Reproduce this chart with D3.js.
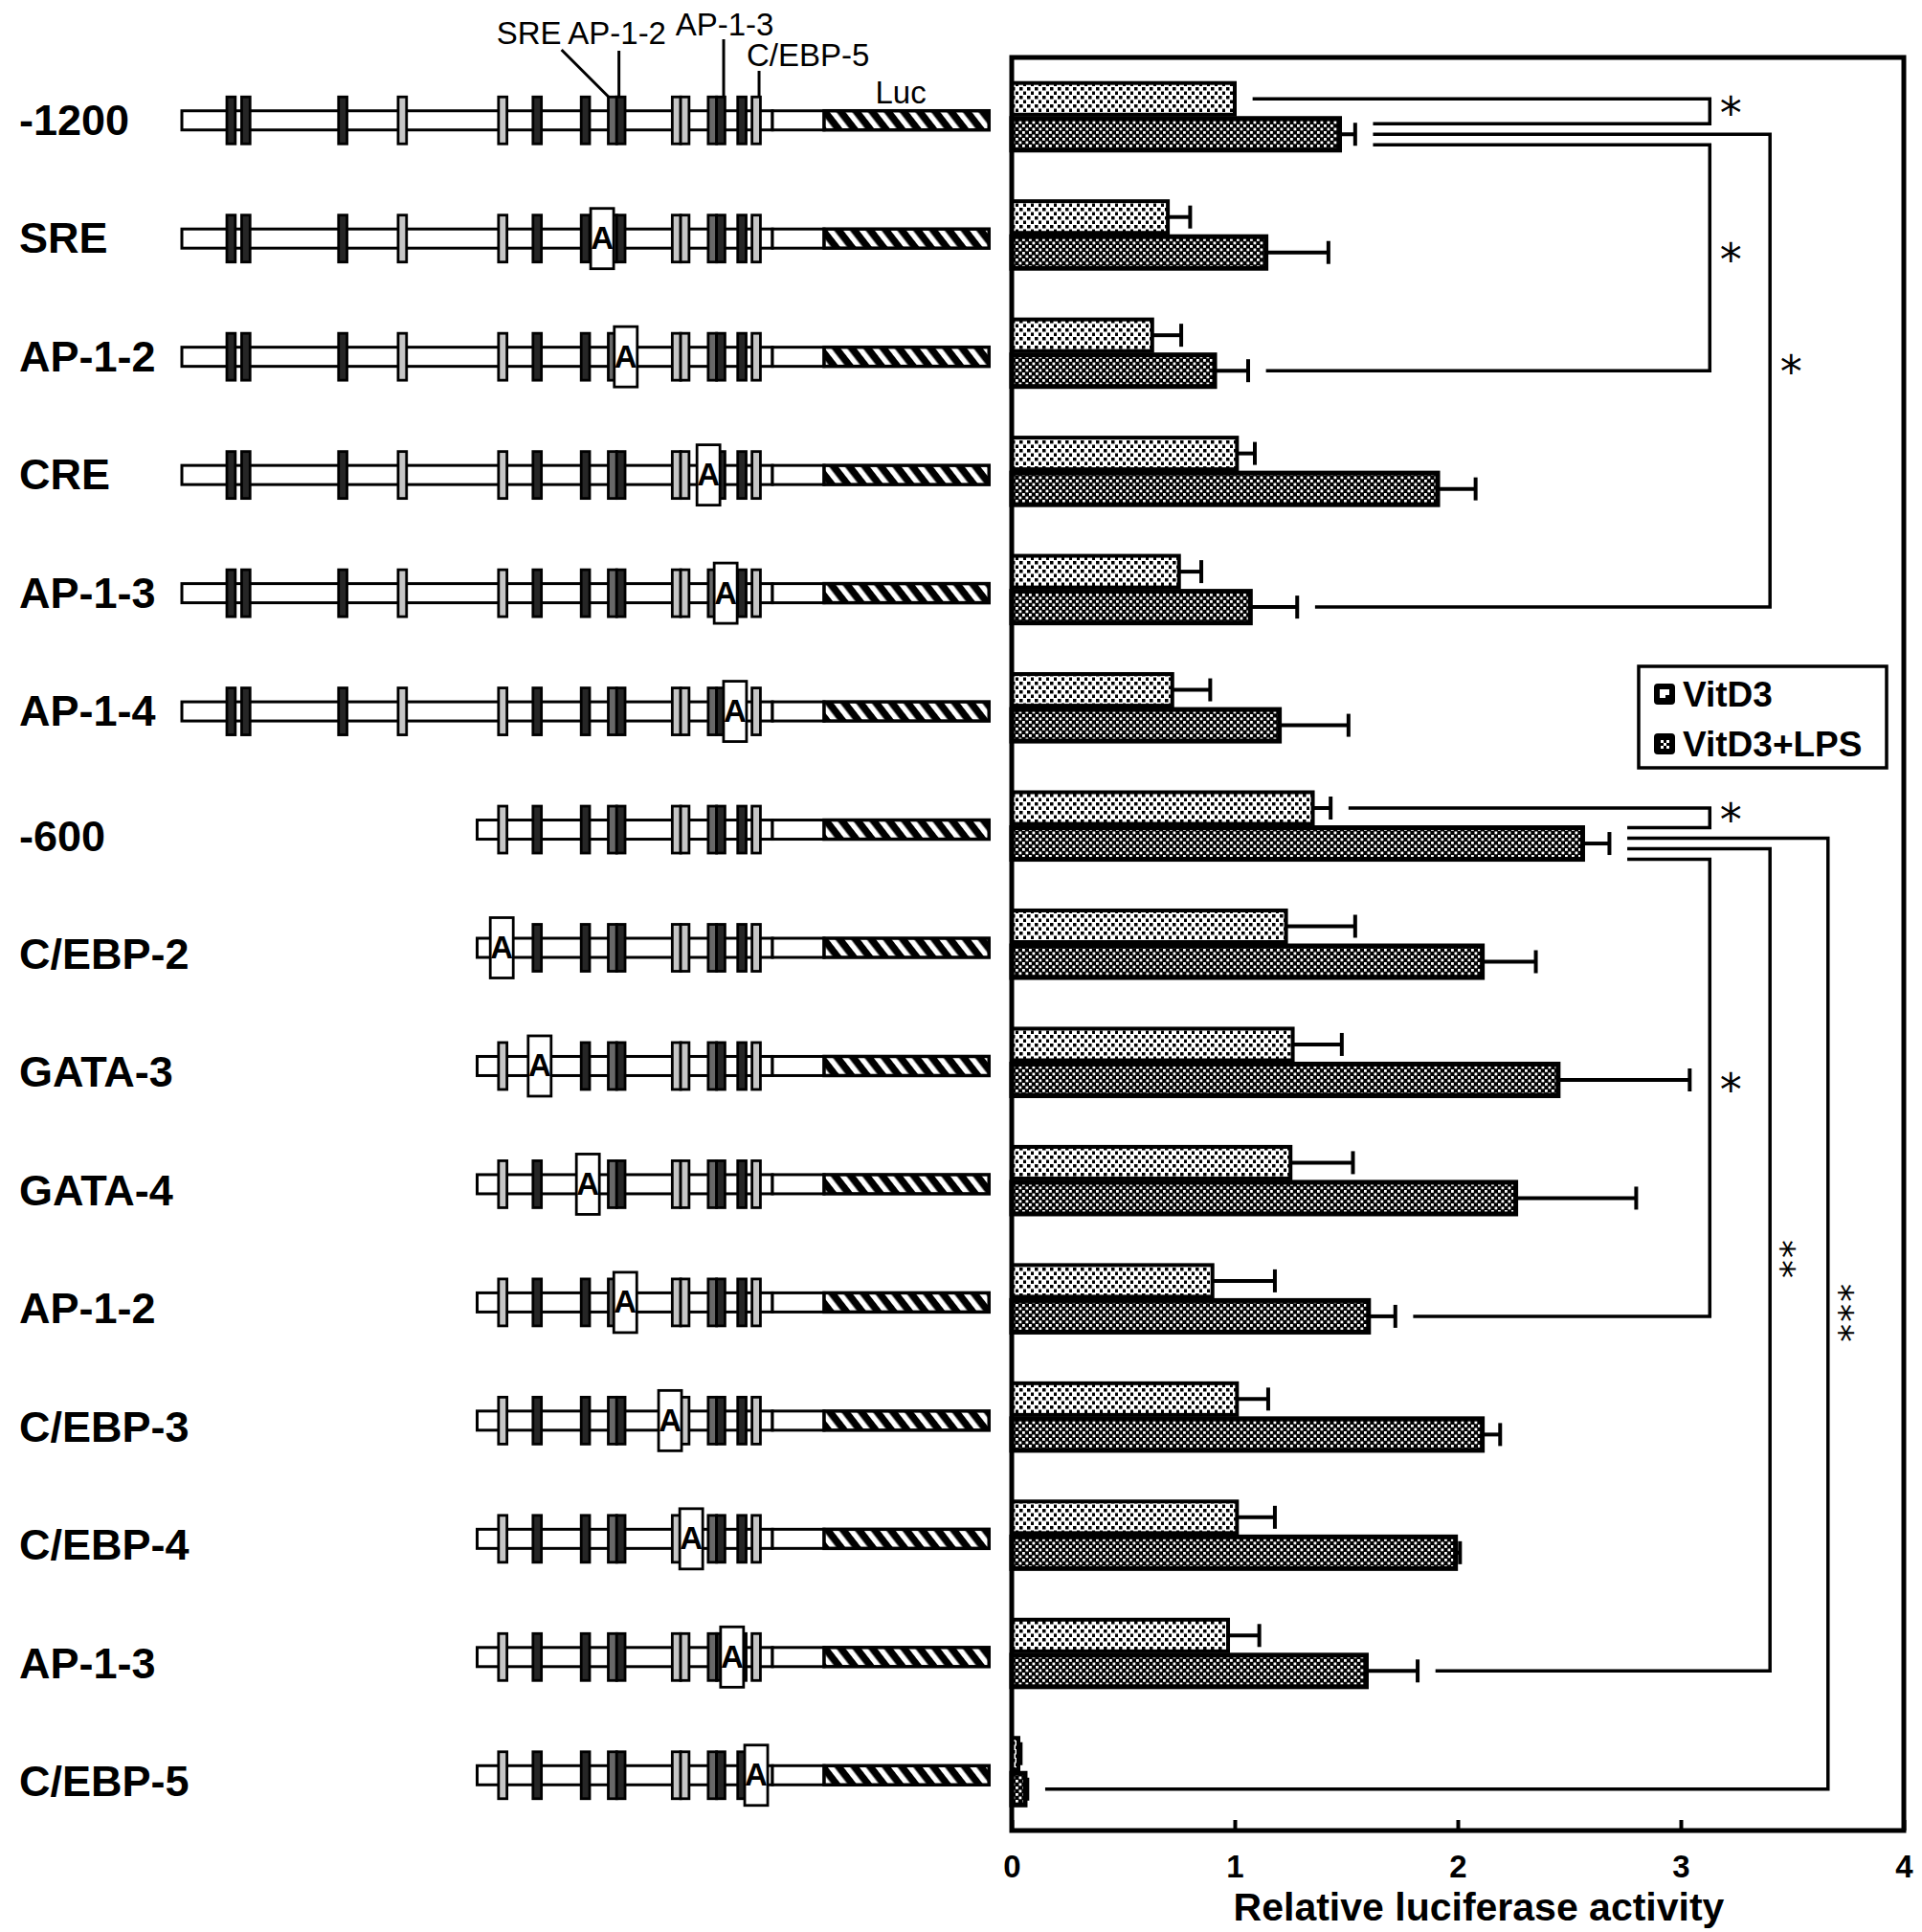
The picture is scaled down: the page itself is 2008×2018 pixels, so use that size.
<!DOCTYPE html>
<html><head><meta charset="utf-8">
<script src="https://cdn.jsdelivr.net/npm/d3@7"></script>
<style>body{margin:0;background:#fff} svg{display:block}</style>
</head><body><svg id="c" width="2008" height="2018"></svg>
<script>
// ---------------- data ----------------
const rowLabels = ["-1200","SRE","AP-1-2","CRE","AP-1-3","AP-1-4","-600","C/EBP-2","GATA-3","GATA-4","AP-1-2","C/EBP-3","C/EBP-4","AP-1-3","C/EBP-5"];
const promoterStart = [-1200,-1200,-1200,-1200,-1200,-1200,-600,-600,-600,-600,-600,-600,-600,-600,-600];
const mutationBp = [null,-346,-298,-130,-95,-76,null,-550,-473,-375,-299,-208,-165,-82,-33];
const seriesNames = ["VitD3","VitD3+LPS"];
const vitD3      = [1.00,0.70,0.63,1.01,0.75,0.72,1.35,1.23,1.26,1.25,0.90,1.01,1.01,0.97,0.03];
const vitD3Err   = [0.00,0.10,0.13,0.08,0.10,0.17,0.08,0.31,0.22,0.28,0.28,0.14,0.17,0.14,0.01];
const vitD3LPS   = [1.47,1.14,0.91,1.91,1.07,1.20,2.56,2.11,2.45,2.26,1.60,2.11,1.99,1.59,0.06];
const vitD3LPSErr= [0.07,0.28,0.15,0.17,0.21,0.31,0.12,0.24,0.59,0.54,0.12,0.08,0.02,0.23,0.01];
const siteNames = ["s1","s2","s3","s4","C/EBP-2","GATA-3","GATA-4","SRE","AP-1-2","C/EBP-3","C/EBP-4","CRE","AP-1-3","AP-1-4","C/EBP-5"];
const siteBp    = [-1100,-1070,-873,-752,-548,-478,-380,-325,-308,-195,-178,-122,-105,-62,-33];
const siteShade = ["dark","dark","dark","light","light","dark","dark","mid","dark","light","light","mid","dark","dark","light"];
const promoterEnd = 0, lucStart = 105, lucEnd = 440;
const xTicks = [0,1,2,3,4];
const comparisons = [
  {from:[0,0], to:[0,1], at:3.13, mark:"*"},
  {from:[0,1], to:[4,1], at:3.40, mark:"*"},
  {from:[0,1], to:[2,1], at:3.13, mark:"*"},
  {from:[6,0], to:[6,1], at:3.13, mark:"*"},
  {from:[6,1], to:[14,1], at:3.66, mark:"***"},
  {from:[6,1], to:[13,1], at:3.40, mark:"**"},
  {from:[6,1], to:[10,1], at:3.13, mark:"*"}
];
const xTitle = "Relative luciferase activity";

// ---------------- setup ----------------
const FONT = "Liberation Sans, Arial, sans-serif";
const values = [vitD3, vitD3LPS], errs = [vitD3Err, vitD3LPSErr];
const svg = d3.select("#c");
svg.append("rect").attr("width",2008).attr("height",2018).attr("fill","#fff");
const defs = svg.append("defs");
const pL = defs.append("pattern").attr("id","pLight").attr("patternUnits","userSpaceOnUse").attr("width",8).attr("height",9);
pL.append("rect").attr("width",8).attr("height",9).attr("fill","#fff");
pL.append("rect").attr("x",1).attr("y",1).attr("width",3.5).attr("height",3.5).attr("fill","#000");
pL.append("rect").attr("x",5).attr("y",5.5).attr("width",3.5).attr("height",3.5).attr("fill","#000");
const pD = defs.append("pattern").attr("id","pDark").attr("patternUnits","userSpaceOnUse").attr("width",7).attr("height",7);
pD.append("rect").attr("width",7).attr("height",7).attr("fill","#000");
pD.append("rect").attr("x",0.5).attr("y",0.5).attr("width",2.8).attr("height",2.8).attr("fill","#fff");
pD.append("rect").attr("x",4).attr("y",4).attr("width",2.8).attr("height",2.8).attr("fill","#fff");
const pH = defs.append("pattern").attr("id","hatch").attr("patternUnits","userSpaceOnUse").attr("width",13).attr("height",13).attr("patternTransform","rotate(-38)");
pH.append("rect").attr("width",13).attr("height",13).attr("fill","#000");
pH.append("rect").attr("width",5.5).attr("height",13).attr("fill","#fff");
const fills = ["url(#pLight)","url(#pDark)"];
const shadeColor = {dark:"#262626", mid:"#686868", light:"#c6c6c6"};

const x = d3.scaleLinear().domain([0,4]).range([1057,1989]);
const rows = d3.range(rowLabels.length);
const yBand = d3.scaleBand().domain(rows).range([60,1912]);
const ySub = d3.scaleBand().domain([0,1]).range([0,yBand.bandwidth()]).paddingInner(0).paddingOuter(0.667);
const xd = d3.scaleLinear().domain([-1200,0]).range([190,807]);
const rowCenter = i => yBand(i) + yBand.bandwidth()/2;
const diagCenter = i => rowCenter(i) + 4;

// ---------------- row labels ----------------
svg.append("g").selectAll("text").data(rows).join("text")
  .attr("x",20).attr("y",i => rowCenter(i) + (promoterStart[i] === -1200 ? 3 : 10) + 16)
  .attr("font-family",FONT).attr("font-weight","bold").attr("font-size",45)
  .text(i => rowLabels[i]);

// ---------------- construct diagrams ----------------
const dg = svg.append("g");
rows.forEach(i => {
  const g = dg.append("g");
  const cy = diagCenter(i);
  g.append("rect").attr("x",xd(promoterStart[i])).attr("y",cy-10).attr("width",xd(promoterEnd)-xd(promoterStart[i])).attr("height",20)
    .attr("fill","#fff").attr("stroke","#000").attr("stroke-width",3);
  g.append("rect").attr("x",xd(promoterEnd)).attr("y",cy-10).attr("width",xd(lucStart)-xd(promoterEnd)).attr("height",20)
    .attr("fill","#fff").attr("stroke","#000").attr("stroke-width",3);
  g.append("rect").attr("x",xd(lucStart)).attr("y",cy-10).attr("width",xd(lucEnd)-xd(lucStart)).attr("height",20)
    .attr("fill","url(#hatch)").attr("stroke","#000").attr("stroke-width",3.5);
  const sites = d3.range(siteBp.length).filter(k => siteBp[k] > promoterStart[i]);
  g.selectAll("rect.site").data(sites).join("rect").attr("class","site")
    .attr("x",k => xd(siteBp[k]) - 4.4).attr("y",cy-24.5).attr("width",8.8).attr("height",49)
    .attr("fill",k => shadeColor[siteShade[k]]).attr("stroke","#000").attr("stroke-width",2.8);
  if (mutationBp[i] !== null) {
    g.append("rect").attr("x",xd(mutationBp[i]) - 12).attr("y",cy-31.5).attr("width",24).attr("height",63)
      .attr("fill","#fff").attr("stroke","#000").attr("stroke-width",2.8);
    g.append("text").attr("x",xd(mutationBp[i])).attr("y",cy+11).attr("text-anchor","middle")
      .attr("font-family",FONT).attr("font-weight","bold").attr("font-size",33).text("A");
  }
});

// top annotations for the -1200 construct
{
  const top = diagCenter(0) - 24.5;
  const sx = n => xd(siteBp[siteNames.indexOf(n)]);
  const ag = svg.append("g").attr("font-family",FONT).attr("font-size",33);
  const line = (x1,y1,x2,y2) => ag.append("line").attr("x1",x1).attr("y1",y1).attr("x2",x2).attr("y2",y2).attr("stroke","#000").attr("stroke-width",3);
  ag.append("text").attr("x",sx("AP-1-2")-4).attr("y",46).attr("text-anchor","middle").text("AP-1-2");
  line(sx("AP-1-2")-2, 53, sx("AP-1-2")-2, top);
  ag.append("text").attr("x",sx("AP-1-2")-62).attr("y",46).attr("text-anchor","end").text("SRE");
  line(sx("AP-1-2")-62, 52, sx("SRE")-4, top);
  ag.append("text").attr("x",sx("AP-1-3")+4).attr("y",37).attr("text-anchor","middle").text("AP-1-3");
  line(sx("AP-1-3")+3, 41, sx("AP-1-3")+3, top);
  ag.append("text").attr("x",sx("C/EBP-5")-10).attr("y",69).attr("text-anchor","start").text("C/EBP-5");
  line(sx("C/EBP-5")+3, 74, sx("C/EBP-5")+3, top);
  ag.append("text").attr("x",(xd(lucStart)+xd(lucEnd))/2-6).attr("y",108).attr("text-anchor","middle").text("Luc");
}

// ---------------- bars ----------------
const bg = svg.append("g");
const barData = [];
rows.forEach(i => [0,1].forEach(s => barData.push({i, s, v: values[s][i], e: errs[s][i]})));
const barMid = d => yBand(d.i)+ySub(d.s)+ySub.bandwidth()/2;
bg.selectAll("line.err").data(barData.filter(d => d.e > 0)).join("line").attr("class","err")
  .attr("x1",d => x(d.v)).attr("x2",d => x(d.v + d.e))
  .attr("y1",barMid).attr("y2",barMid)
  .attr("stroke","#000").attr("stroke-width",4);
bg.selectAll("line.cap").data(barData.filter(d => d.e > 0)).join("line").attr("class","cap")
  .attr("x1",d => x(d.v + d.e)).attr("x2",d => x(d.v + d.e))
  .attr("y1",d => barMid(d) - 12).attr("y2",d => barMid(d) + 12)
  .attr("stroke","#000").attr("stroke-width",4);
bg.selectAll("rect.bar").data(barData).join("rect").attr("class","bar")
  .attr("x",x(0)).attr("y",d => yBand(d.i)+ySub(d.s)+2)
  .attr("width",d => x(d.v)-x(0)).attr("height",ySub.bandwidth()-4)
  .attr("fill",d => fills[d.s]).attr("stroke","#000").attr("stroke-width",d => d.s ? 5 : 4);

// ---------------- comparisons ----------------
const keyOf = p => p[0] + "-" + p[1];
const attach = {};
comparisons.forEach((c,ci) => [c.from,c.to].forEach(p => { (attach[keyOf(p)] = attach[keyOf(p)] || []).push(ci); }));
const endY = (p, ci) => {
  const list = attach[keyOf(p)], k = list.indexOf(ci), n = list.length;
  return yBand(p[0]) + ySub(p[1]) + ySub.bandwidth()/2 + (k - (n-1)/2) * 11;
};
const endX = p => x(values[p[1]][p[0]] + errs[p[1]][p[0]] + 0.08);
const cg = svg.append("g");
comparisons.forEach((c,ci) => {
  const ya = endY(c.from,ci), yb = endY(c.to,ci), xv = x(c.at);
  cg.append("path").attr("d",`M${endX(c.from)},${ya}H${xv}V${yb}H${endX(c.to)}`)
    .attr("fill","none").attr("stroke","#000").attr("stroke-width",3.5);
  const mid = (ya+yb)/2;
  if (c.mark.length === 1) {
    const SF = 46;
    cg.append("text").attr("x",xv+22).attr("y",mid - 8 + 0.55*SF)
      .attr("text-anchor","middle").attr("font-family","DejaVu Sans, sans-serif").attr("font-size",SF).text(c.mark);
  } else {
    const SF = 38;
    const ax0 = xv + 20 - 0.55*SF, ay0 = mid;
    cg.append("text").attr("transform",`translate(${ax0},${ay0}) rotate(90)`)
      .attr("text-anchor","middle").attr("font-family","DejaVu Sans, sans-serif").attr("font-size",SF)
      .attr("letter-spacing",2).text(c.mark);
  }
});

// ---------------- frame and axis ----------------
svg.append("rect").attr("x",x(0)).attr("y",60).attr("width",x(4)-x(0)).attr("height",1912-60)
  .attr("fill","none").attr("stroke","#000").attr("stroke-width",5);
const ax = svg.append("g").attr("transform","translate(0,1912)")
  .call(d3.axisBottom(x).tickValues(xTicks).tickFormat(d3.format("d")).tickSizeInner(-11).tickSizeOuter(0));
ax.select(".domain").remove();
ax.selectAll(".tick line").attr("stroke","#000").attr("stroke-width",4);
ax.selectAll(".tick text").attr("dy",null).attr("y",49)
  .attr("font-family",FONT).attr("font-weight","bold").attr("font-size",33).attr("fill","#000");
svg.append("text").attr("x",(x(0)+x(4))/2 + 22).attr("y",2006).attr("text-anchor","middle")
  .attr("font-family",FONT).attr("font-weight","bold").attr("font-size",41).text(xTitle);

// ---------------- legend ----------------
const lg = svg.append("g");
lg.append("rect").attr("x",1712).attr("y",696).attr("width",259).attr("height",106)
  .attr("fill","#fff").attr("stroke","#000").attr("stroke-width",3.5);
seriesNames.forEach((name,s) => {
  const cy = 725 + s*52;
  lg.append("rect").attr("x",1728).attr("y",cy-11).attr("width",22).attr("height",22).attr("rx",4).attr("fill","#000");
  if (s === 0) {
    lg.append("rect").attr("x",1734).attr("y",cy-5).attr("width",10).attr("height",9).attr("fill","#fff");
    lg.append("rect").attr("x",1740).attr("y",cy+1).attr("width",4).attr("height",3).attr("fill","#000");
  } else {
    [[-4,-4],[2,-4],[-1,-1],[-4,2],[2,2]].forEach(o => lg.append("rect").attr("x",1739+o[0]).attr("y",cy+o[1]).attr("width",3).attr("height",3).attr("fill","#fff"));
  }
  lg.append("text").attr("x",1758).attr("y",cy+13).attr("font-family",FONT)
    .attr("font-weight","bold").attr("font-size",37).text(name);
});
</script></body></html>
